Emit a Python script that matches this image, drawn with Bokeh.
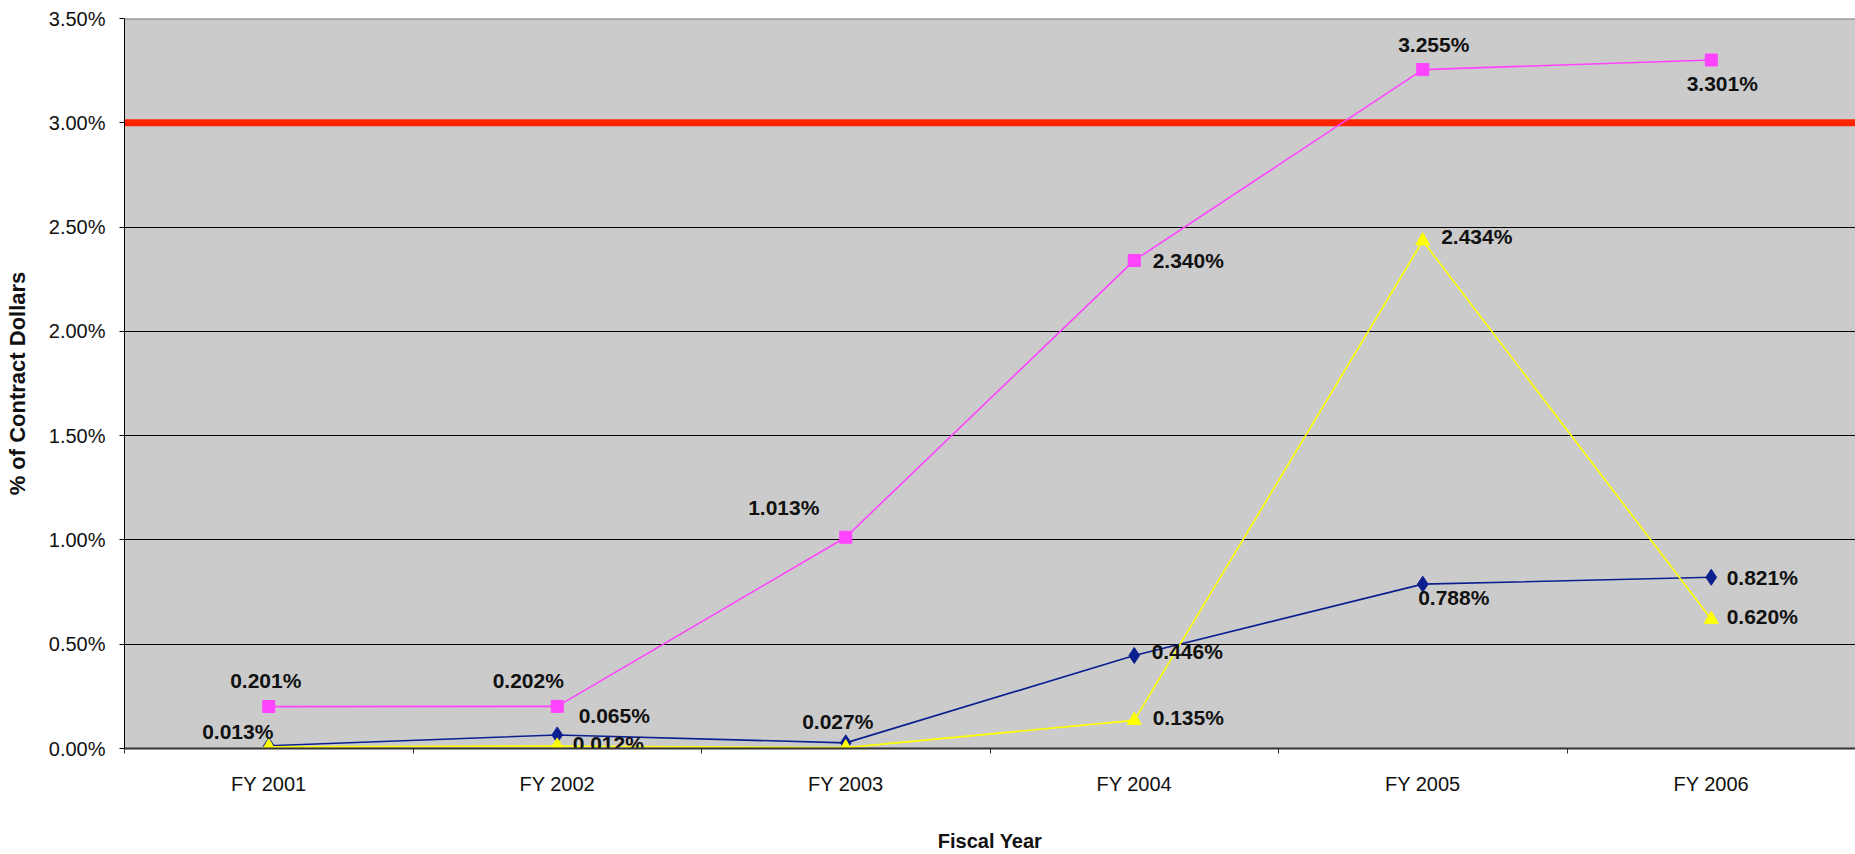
from bokeh.plotting import figure
from bokeh.models import ColumnDataSource, FixedTicker, PrintfTickFormatter, Span, Range1d
from bokeh.core.properties import value
from bokeh.embed import file_html
from bokeh.resources import INLINE

# ---------------- data ----------------
categories = ["FY 2001", "FY 2002", "FY 2003", "FY 2004", "FY 2005", "FY 2006"]
pink_values = [0.201, 0.202, 1.013, 2.340, 3.255, 3.301]
blue_values = [0.013, 0.065, 0.027, 0.446, 0.788, 0.821]
yellow_values = [0.008, 0.012, 0.004, 0.135, 2.434, 0.620]
threshold = 3.0
y_ticks = [0.0, 0.5, 1.0, 1.5, 2.0, 2.5, 3.0, 3.5]

# label offsets (screen px) — styling only
pink_dx = [-3, -29, -62, 54, 11, 11]
pink_dy = [-26, -26, -30, 0, -25, 23]
blue_dx = [-31, 57, -8, 53, 31, 51]
blue_dy = [-14, -19, -21, -4, 13, 0]
yellow_dx = [44, 51, 50, 54, 54, 51]
yellow_dy = [10, -2, 12, -3, -4, -3]

FONT = "Liberation Sans"
xs = [i + 0.5 for i in range(len(categories))]

p = figure(width=1855, height=854,
           x_range=Range1d(0, len(categories)),
           y_range=Range1d(y_ticks[0], y_ticks[-1]),
           output_backend="svg", toolbar_location=None,
           min_border_left=124, min_border_right=0,
           min_border_top=18, min_border_bottom=105)

p.background_fill_color = "#CBCBCB"
p.border_fill_color = "white"
p.outline_line_color = None

# grid
p.xgrid.visible = False
p.ygrid.ticker = FixedTicker(ticks=y_ticks)
p.ygrid.grid_line_color = "black"
p.ygrid.grid_line_width = 1

# y axis
p.yaxis.ticker = FixedTicker(ticks=y_ticks)
p.yaxis.formatter = PrintfTickFormatter(format="%.2f%%")
p.yaxis.axis_line_color = "black"
p.yaxis.major_tick_line_color = "black"
p.yaxis.major_tick_out = 5
p.yaxis.major_tick_in = 0
p.yaxis.minor_tick_line_color = None
p.yaxis.major_label_text_font = FONT
p.yaxis.major_label_text_font_size = "20px"
p.yaxis.major_label_text_color = "#111111"
p.yaxis.major_label_standoff = 14
p.yaxis.axis_label = "% of Contract Dollars"
p.yaxis.axis_label_text_font = FONT
p.yaxis.axis_label_text_font_style = "bold"
p.yaxis.axis_label_text_font_size = "22px"
p.yaxis.axis_label_text_color = "#111111"
p.yaxis.axis_label_standoff = 16

# x axis
p.xaxis.ticker = FixedTicker(ticks=xs, minor_ticks=list(range(len(categories) + 1)))
p.xaxis.major_label_overrides = {x: c for x, c in zip(xs, categories)}
p.xaxis.axis_line_color = "#333333"
p.xaxis.axis_line_width = 2
p.xaxis.major_tick_line_color = None
p.xaxis.major_tick_out = 0
p.xaxis.major_tick_in = 0
p.xaxis.minor_tick_line_color = "#333333"
p.xaxis.minor_tick_out = 5
p.xaxis.minor_tick_in = 0
p.xaxis.major_label_text_font = FONT
p.xaxis.major_label_text_font_size = "20px"
p.xaxis.major_label_text_color = "#111111"
p.xaxis.major_label_standoff = 19
p.xaxis.axis_label = "Fiscal Year"
p.xaxis.axis_label_text_font = FONT
p.xaxis.axis_label_text_font_style = "bold"
p.xaxis.axis_label_text_font_size = "20px"
p.xaxis.axis_label_text_color = "#111111"
p.xaxis.axis_label_standoff = 32

# top border
p.add_layout(Span(location=y_ticks[-1], dimension="width", line_color="#808080", line_width=2))
# threshold line
p.add_layout(Span(location=threshold, dimension="width", line_color="#FF2400",
                  line_width=7, level="underlay"))

series = [
    (blue_values, "#0B1F8F", "diamond", 16, blue_dx, blue_dy),
    (yellow_values, "#FFFF00", "triangle", 14, yellow_dx, yellow_dy),
    (pink_values, "#FF44FF", "square", 12, pink_dx, pink_dy),
]

for vals, color, marker, size, dx, dy in series:
    src = ColumnDataSource(dict(x=xs, y=vals))
    p.line("x", "y", source=src, line_color=color, line_width=1.6)
    p.scatter("x", "y", source=src, marker=marker, size=size,
              fill_color=color, line_color=color)

for vals, color, marker, size, dx, dy in series:
    src = ColumnDataSource(dict(x=xs, y=vals,
                                label=[f"{v:.3f}%" for v in vals],
                                dx=dx, dy=dy))
    p.text("x", "y", text="label", source=src, x_offset="dx", y_offset="dy",
           text_align="center", text_baseline="middle",
           text_font=value(FONT), text_font_style="bold",
           text_font_size="21px", text_color="#111111")

open("out.html", "w").write(file_html(p, INLINE))
